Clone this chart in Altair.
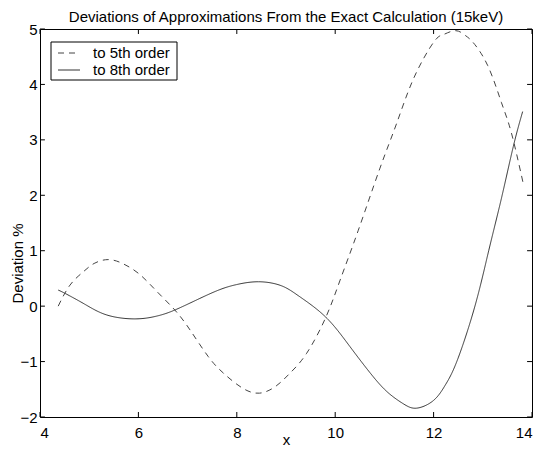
import altair as alt
import pandas as pd

x5 = [4.37, 4.61, 4.88, 5.10, 5.39, 5.70, 6.03, 6.37, 6.74, 7.05, 7.42, 7.73, 8.10, 8.46,
      8.80, 9.08, 9.42, 9.81, 10.10, 10.47, 10.91, 11.25, 11.60, 12.00, 12.20, 12.45,
      12.65, 12.80, 13.10, 13.38, 13.58, 13.82]
y5 = [0.00, 0.38, 0.62, 0.77, 0.84, 0.76, 0.57, 0.27, -0.07, -0.43, -0.91, -1.21, -1.47, -1.57,
      -1.44, -1.21, -0.85, -0.20, 0.47, 1.37, 2.49, 3.30, 4.12, 4.76, 4.90, 4.97,
      4.88, 4.76, 4.34, 3.67, 3.13, 2.22]

x8 = [4.37, 4.51, 4.90, 5.36, 5.93, 6.37, 6.74, 7.25, 7.66, 8.00, 8.44, 8.90, 9.28, 9.81,
      10.30, 10.77, 11.10, 11.40, 11.66, 12.00, 12.24, 12.48, 12.84, 13.12, 13.38, 13.62, 13.81]
y8 = [0.29, 0.23, 0.04, -0.16, -0.23, -0.18, -0.07, 0.14, 0.30, 0.39, 0.44, 0.37, 0.17, -0.20,
      -0.73, -1.27, -1.58, -1.77, -1.84, -1.70, -1.42, -0.98, 0.00, 1.00, 1.95, 2.88, 3.51]

series_names = ["to 5th order", "to 8th order"]
series_colors = ["#444444", "#333333"]
series_dash = [[6, 5], [1, 0]]
x_ticks = [4, 6, 8, 10, 12, 14]
y_ticks = [-2, -1, 0, 1, 2, 3, 4, 5]

df = pd.concat([
    pd.DataFrame({"x": x5, "y": y5, "series": series_names[0], "o": range(len(x5))}),
    pd.DataFrame({"x": x8, "y": y8, "series": series_names[1], "o": range(len(x8))}),
])

FONT = "Liberation Sans"
xs = alt.Scale(domain=[4, 14], nice=False, zero=False)
ys = alt.Scale(domain=[-2, 5], nice=False, zero=False)

lines = alt.Chart(df).mark_line(strokeWidth=1, interpolate="natural").encode(
    x=alt.X("x:Q", scale=xs, axis=alt.Axis(values=x_ticks, format="d", title="x", tickSize=0,
                                           labelPadding=8, domain=False, grid=False,
                                           titleY=27, titleBaseline="alphabetic")),
    y=alt.Y("y:Q", scale=ys, axis=alt.Axis(values=y_ticks, format="d", title="Deviation %", tickSize=0,
                                           labelPadding=3, domain=False, grid=False,
                                           titleX=-23, titleY=234, titleBaseline="middle")),
    order="o:Q",
    color=alt.Color("series:N", scale=alt.Scale(domain=series_names, range=series_colors), legend=None),
    strokeDash=alt.StrokeDash("series:N", scale=alt.Scale(domain=series_names, range=series_dash),
                              legend=None),
)

tx = pd.DataFrame({"t": x_ticks})
ty = pd.DataFrame({"t": y_ticks})
tick_bottom = alt.Chart(tx).mark_rule(color="black", strokeWidth=1).encode(
    x="t:Q", y=alt.datum(-2), y2=alt.datum(-1.91))
tick_top = alt.Chart(tx).mark_rule(color="black", strokeWidth=1).encode(
    x="t:Q", y=alt.datum(5), y2=alt.datum(4.91))
tick_left = alt.Chart(ty).mark_rule(color="black", strokeWidth=1).encode(
    y="t:Q", x=alt.datum(4), x2=alt.datum(4.1))
tick_right = alt.Chart(ty).mark_rule(color="black", strokeWidth=1).encode(
    y="t:Q", x=alt.datum(14), x2=alt.datum(13.9))

# manual legend (MATLAB style box in the upper-left corner)
leg = pd.DataFrame({"series": series_names, "row": [0, 1]})
leg_box = alt.Chart(pd.DataFrame({"a": [0]})).mark_rect(
    fill="white", stroke="black", strokeWidth=1).encode(
    x=alt.value(11), x2=alt.value(137), y=alt.value(13), y2=alt.value(51))
leg_dash = alt.Chart(leg.iloc[[0]]).mark_rule(strokeWidth=1, color=series_colors[0],
                                               strokeDash=series_dash[0]).encode(
    x=alt.value(18), x2=alt.value(40), y=alt.value(24))
leg_solid = alt.Chart(leg.iloc[[1]]).mark_rule(strokeWidth=1, color=series_colors[1]).encode(
    x=alt.value(18), x2=alt.value(40), y=alt.value(41))
leg_text0 = alt.Chart(leg.iloc[[0]]).mark_text(align="left", baseline="middle", fontSize=15,
                                               font=FONT, color="black").encode(
    x=alt.value(53), y=alt.value(24), text="series:N")
leg_text1 = alt.Chart(leg.iloc[[1]]).mark_text(align="left", baseline="middle", fontSize=15,
                                               font=FONT, color="black").encode(
    x=alt.value(53), y=alt.value(41), text="series:N")

chart = alt.layer(lines, tick_bottom, tick_top, tick_left, tick_right,
                  leg_box, leg_dash, leg_solid, leg_text0, leg_text1).properties(
    width=492, height=388,
    title=alt.TitleParams("Deviations of Approximations From the Exact Calculation (15keV)",
                          fontSize=15, fontWeight="normal", font=FONT,
                          color="black", offset=0, dy=3),
    autosize=alt.AutoSizeParams(type="none"),
    padding={"left": 32, "top": 21, "right": 5, "bottom": 31},
).configure_view(stroke="black", strokeWidth=1).configure_axis(
    labelFont=FONT, titleFont=FONT, labelFontSize=15,
    titleFontSize=15, titleFontWeight="normal", labelColor="black", titleColor="black",
)

chart.save("out.html", embed_options={"renderer": "svg", "actions": False})
